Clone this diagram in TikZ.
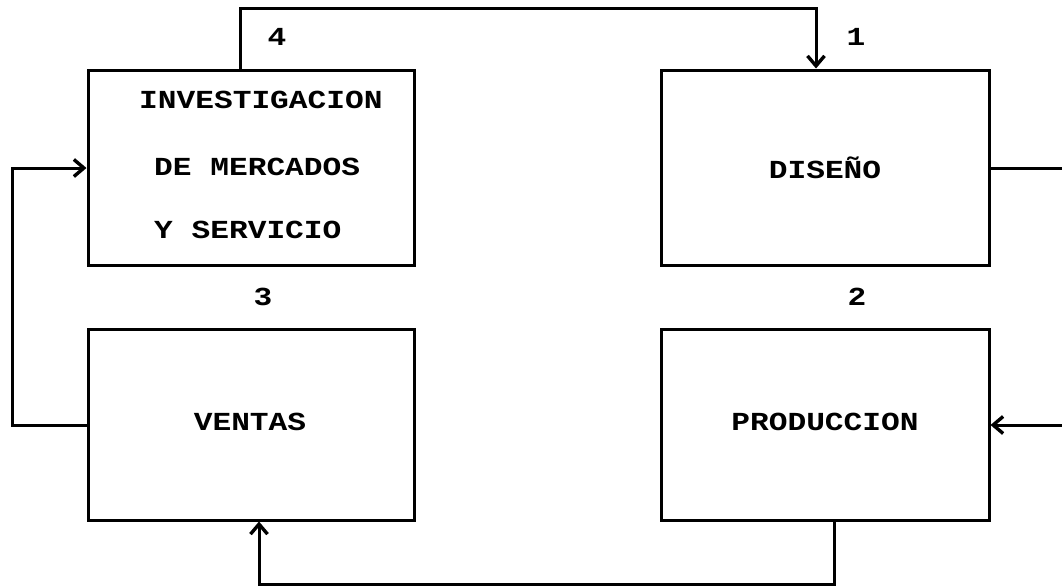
\documentclass[tikz,border=0pt]{standalone}
\usepackage{fontspec}
\setmainfont{Liberation Mono}[FakeStretch=1.2]
\usetikzlibrary{arrows.meta}
\begin{document}
\begin{tikzpicture}[x=1pt,y=-1pt,
  box/.style={draw, line width=3pt, rectangle, inner sep=0pt},
  txt/.style={inner sep=0pt, font=\fontsize{26}{32}\selectfont\bfseries},
  conn/.style={line width=3pt, line cap=rect},
  arr/.style={conn, -{Straight Barb[length=10pt,width=17pt,line width=3.4pt]}}]
\useasboundingbox (0,0) rectangle (1062,587);
% boxes
\node[box, minimum width=326pt, minimum height=195pt] (inv) at (251,167.5) {};
\node[box, minimum width=328pt, minimum height=195pt] (dis) at (825,167.5) {};
\node[box, minimum width=326pt, minimum height=191pt] (ven) at (251,424.5) {};
\node[box, minimum width=328pt, minimum height=191pt] (pro) at (825,424.5) {};
% texts
\node[txt, anchor=west] (t1a) at (139,100) {INVESTIGACION};
\node[txt, anchor=west] (t1b) at (154,167) {DE MERCADOS};
\node[txt, anchor=west] (t1c) at (154,230) {Y SERVICIO};
\node[txt] (t2) at (825,168) {DISEÑO};
\node[txt] (t3) at (250,422) {VENTAS};
\node[txt] (t4) at (825,422) {PRODUCCION};
% numbers
\node[txt] (n4) at (277,37) {4};
\node[txt] (n1) at (856,37) {1};
\node[txt] (n3) at (263,297) {3};
\node[txt] (n2) at (857,297) {2};
% connector coordinates
\coordinate (a1) at (240,8);
\coordinate (a2) at (816,8);
\coordinate (r1) at (1080,168);
\coordinate (r2) at (1080,425);
\coordinate (b1) at (834,584);
\coordinate (b2) at (259,584);
\coordinate (l1) at (12,425);
\coordinate (l2) at (12,168);
% connectors
\draw[arr] (a1 |- inv.north) -- (a1) -- (a2) -- (a2 |- dis.north);
\draw[arr] (dis.east |- r1) -- (r1) -- (r2) -- (pro.east |- r2);
\draw[arr] (pro.south -| b1) -- (b1) -- (b2) -- (ven.south -| b2);
\draw[arr] (ven.west |- l1) -- (l1) -- (l2) -- (inv.west |- l2);
\end{tikzpicture}
\end{document}
